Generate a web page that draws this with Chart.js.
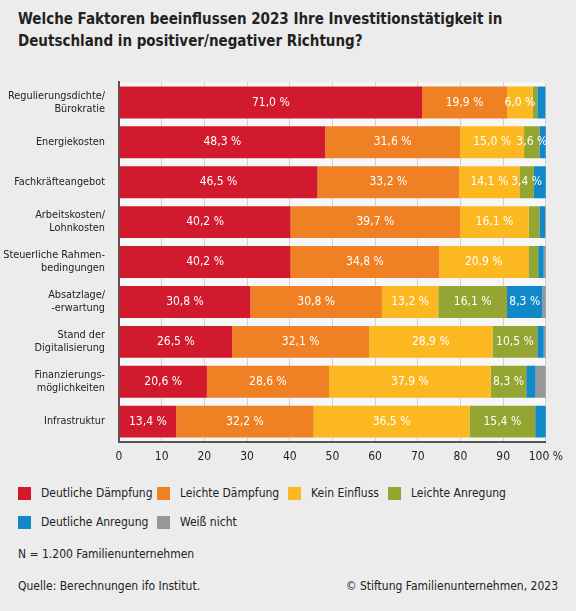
<!DOCTYPE html>
<html><head><meta charset="utf-8">
<script src="https://cdn.jsdelivr.net/npm/chart.js@4/dist/chart.umd.min.js"></script>
<style>
body{margin:0;background:#ececec;font-family:"DejaVu Sans Condensed","Open Sans",sans-serif;color:#222;}
#wrap{width:576px;height:611px;position:relative;}
h1{position:absolute;left:18px;top:8px;margin:0;font-size:15px;font-weight:700;line-height:22px;width:556px;}
#cw{position:absolute;left:0;top:70px;width:571px;height:402px;}
.leg{position:absolute;font-size:12px;}
.leg i{position:absolute;left:0;top:1px;width:13px;height:13px;}
.leg span{position:absolute;left:23px;top:0;white-space:nowrap;}
.t{position:absolute;font-size:12px;}
</style></head><body>
<div id="wrap">
<h1>Welche Faktoren beeinflussen 2023 Ihre Investitionstätigkeit in Deutschland in positiver/negativer Richtung?</h1>
<div id="cw"><canvas id="c"></canvas></div>
<div class="leg" style="left:18px;top:486px"><i style="background:#d21a2f"></i><span>Deutliche Dämpfung</span></div>
<div class="leg" style="left:157px;top:486px"><i style="background:#f08024"></i><span>Leichte Dämpfung</span></div>
<div class="leg" style="left:288px;top:486px"><i style="background:#fbb821"></i><span>Kein Einfluss</span></div>
<div class="leg" style="left:388px;top:486px"><i style="background:#95a532"></i><span>Leichte Anregung</span></div>
<div class="leg" style="left:18px;top:515px"><i style="background:#1188c8"></i><span>Deutliche Anregung</span></div>
<div class="leg" style="left:157px;top:515px"><i style="background:#979797"></i><span>Weiß nicht</span></div>
<div class="t" style="left:18px;top:547px">N = 1.200 Familienunternehmen</div>
<div class="t" style="left:18px;top:579px">Quelle: Berechnungen ifo Institut.</div>
<div class="t" style="right:18px;top:579px">© Stiftung Familienunternehmen, 2023</div>
</div>
<script>
const categories = [['Regulierungsdichte/','Bürokratie'],'Energiekosten','Fachkräfteangebot',['Arbeitskosten/','Lohnkosten'],['Steuerliche Rahmen-','bedingungen'],['Absatzlage/','-erwartung'],['Stand der','Digitalisierung'],['Finanzierungs-','möglichkeiten'],'Infrastruktur'];
const deutlicheDaempfung = [71.0,48.3,46.5,40.2,40.2,30.8,26.5,20.6,13.4];
const leichteDaempfung = [19.9,31.6,33.2,39.7,34.8,30.8,32.1,28.6,32.2];
const keinEinfluss = [6.0,15.0,14.1,16.1,20.9,13.2,28.9,37.9,36.5];
const leichteAnregung = [1.1,3.6,3.4,2.5,2.3,16.1,10.5,8.3,15.4];
const deutlicheAnregung = [1.9,1.5,2.8,1.3,1.3,8.3,1.5,2.2,2.5];
const weissNicht = [0,0,0,0.2,0.5,0.8,0.5,2.4,0];
const xTicks = [0,10,20,30,40,50,60,70,80,90,100];

const FONT = '"DejaVu Sans Condensed", "Open Sans", sans-serif';
const series = [
  ['Deutliche Dämpfung',deutlicheDaempfung,'#d21a2f'],
  ['Leichte Dämpfung',leichteDaempfung,'#f08024'],
  ['Kein Einfluss',keinEinfluss,'#fbb821'],
  ['Leichte Anregung',leichteAnregung,'#95a532'],
  ['Deutliche Anregung',deutlicheAnregung,'#1188c8'],
  ['Weiß nicht',weissNicht,'#979797']
];
const labelPlugin = {
  id:'lbl',
  beforeDraw(chart){
    const a=chart.chartArea, c=chart.ctx;
    c.save(); c.fillStyle='#f7f7f7'; c.fillRect(a.left,a.top,a.right-a.left,a.bottom-a.top); c.restore();
  },
  afterDatasetsDraw(chart){
    const c=chart.ctx;
    c.save();c.font='12px '+FONT;c.fillStyle='#fff';c.textAlign='center';c.textBaseline='middle';
    chart.data.datasets.forEach((ds,i)=>{
      chart.getDatasetMeta(i).data.forEach((b,j)=>{
        const v=ds.data[j];
        if(v>=3){c.fillText(v.toFixed(1).replace('.',',')+' %',(b.x+b.base)/2,b.y);}
      });
    });
    c.restore();
  }
};
new Chart(document.getElementById('c'),{
  type:'bar',
  data:{labels:categories,datasets:series.map(s=>({label:s[0],data:s[1],backgroundColor:s[2],barPercentage:0.8,categoryPercentage:1}))},
  options:{
    indexAxis:'y',responsive:true,maintainAspectRatio:false,animation:false,
    layout:{padding:{left:0,top:4}},
    plugins:{legend:{display:false},tooltip:{enabled:false}},
    scales:{
      x:{stacked:true,min:0,max:100,afterBuildTicks(ax){ax.ticks=xTicks.map(v=>({value:v}));},
        ticks:{color:'#222',padding:8,font:{size:12,family:FONT},callback:v=>v===100?'100 %':v},
        grid:{color:'#d0d0d0',drawTicks:false},border:{color:'#555',width:2}},
      y:{stacked:true,afterFit(ax){ax.width=119;},ticks:{color:'#222',padding:6,font:{size:10.8,family:FONT}},
        grid:{display:false},border:{color:'#555',width:2}}
    }
  },
  plugins:[labelPlugin]
});
</script>
</body></html>
